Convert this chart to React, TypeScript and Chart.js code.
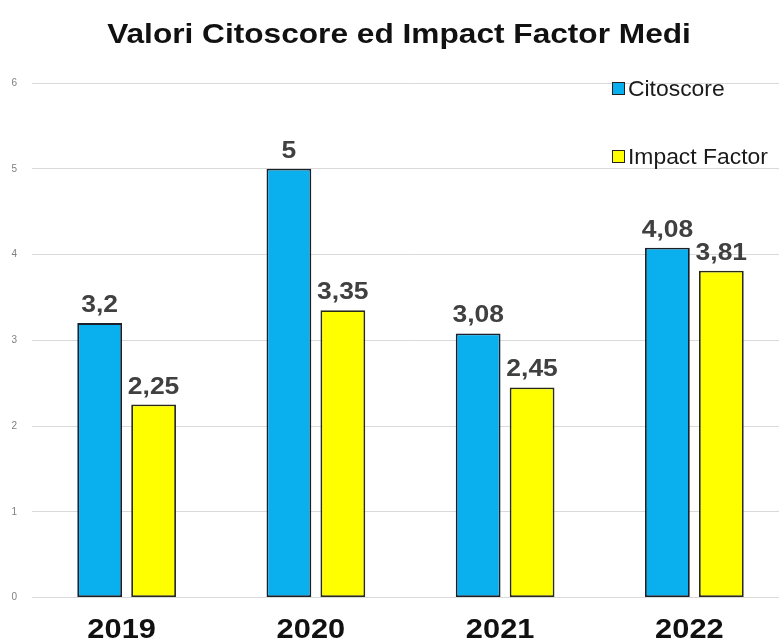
import React, { useEffect, useRef } from "react";
import { Chart, registerables } from "chart.js";

Chart.register(...registerables);

const categories = ["2019", "2020", "2021", "2022"];
const citoscore = [3.2, 5, 3.08, 4.08];
const impactFactor = [2.25, 3.35, 2.45, 3.81];
const seriesNames = ["Citoscore", "Impact Factor"];
const yTicks = [0, 1, 2, 3, 4, 5, 6];
const titleText = "Valori Citoscore ed Impact Factor Medi";

const FONT = "'Liberation Sans', Arial, sans-serif";
const COLORS = ["#0ab0ee", "#ffff00"];

function wideText(ctx: any, text: string, x: number, y: number, sx: number) {
  ctx.save();
  ctx.translate(x, y);
  ctx.scale(sx, 1);
  ctx.fillText(text, 0, 0);
  ctx.restore();
}

const overlayPlugin = {
  id: "overlay",
  afterDatasetsDraw(chart: any) {
    const ctx = chart.ctx;
    ctx.save();
    // data labels
    ctx.font = `bold 23px ${FONT}`;
    ctx.fillStyle = "#404040";
    ctx.textAlign = "center";
    ctx.textBaseline = "alphabetic";
    chart.data.datasets.forEach((ds: any, di: number) => {
      const meta = chart.getDatasetMeta(di);
      meta.data.forEach((bar: any, i: number) => {
        const v = ds.data[i];
        wideText(ctx, String(v).replace(".", ","), bar.x, bar.y - 11, 1.15);
      });
    });
    // category labels
    const xs = chart.scales.x;
    ctx.font = `bold 28px ${FONT}`;
    ctx.fillStyle = "#111111";
    chart.data.labels.forEach((lab: string, i: number) => {
      wideText(ctx, lab, xs.getPixelForValue(i) - 5, 638, 1.1);
    });
    // title
    ctx.font = `bold 28px ${FONT}`;
    ctx.fillStyle = "#111111";
    wideText(ctx, titleText, 399, 43, 1.13);
    // legend
    const rows = [89, 157];
    ctx.textAlign = "left";
    ctx.textBaseline = "middle";
    ctx.font = `22px ${FONT}`;
    seriesNames.forEach((name, i) => {
      const y = rows[i];
      ctx.fillStyle = COLORS[i];
      ctx.fillRect(612.5, y - 6.5, 12, 12);
      ctx.strokeStyle = "#222222";
      ctx.lineWidth = 1;
      ctx.strokeRect(612.5, y - 6.5, 12, 12);
      ctx.fillStyle = "#1a1a1a";
      wideText(ctx, name, 628, y + 1, 1.04);
    });
    ctx.restore();
  },
};

export default function App() {
  const ref = useRef<HTMLCanvasElement | null>(null);
  useEffect(() => {
    if (!ref.current) return;
    const chart = new Chart(ref.current, {
      type: "bar",
      data: {
        labels: categories,
        datasets: [
          {
            label: seriesNames[0],
            data: citoscore,
            backgroundColor: COLORS[0],
            borderColor: "#1a1f2a",
            borderWidth: 1.8,
            borderSkipped: false,
            categoryPercentage: 0.57,
            barPercentage: 0.83,
          },
          {
            label: seriesNames[1],
            data: impactFactor,
            backgroundColor: COLORS[1],
            borderColor: "#2a2a1a",
            borderWidth: 1.8,
            borderSkipped: false,
            categoryPercentage: 0.57,
            barPercentage: 0.83,
          },
        ],
      },
      options: {
        responsive: false,
        animation: false,
        devicePixelRatio: 1,
        layout: { padding: { top: 83, right: 1, left: 0, bottom: 0 } },
        plugins: {
          legend: { display: false },
          title: { display: false },
          tooltip: { enabled: false },
        },
        scales: {
          x: {
            grid: { display: false, drawTicks: false },
            border: { display: false },
            ticks: { display: false },
            afterFit: (s: any) => {
              s.height = 45.5;
            },
          },
          y: {
            min: 0,
            max: 6,
            afterBuildTicks: (s: any) => {
              s.ticks = yTicks.map((v) => ({ value: v }));
            },
            grid: { color: "#d9d9d9", lineWidth: 1, drawTicks: false },
            border: { display: false },
            ticks: {
              font: { family: FONT, size: 10 },
              color: "#7f7f7f",
              padding: 15,
            },
            afterFit: (s: any) => {
              s.width = 32;
            },
          },
        },
      },
      plugins: [overlayPlugin],
    });
    return () => chart.destroy();
  }, []);
  return (
    <div
      style={{
        position: "fixed",
        left: 0,
        top: 0,
        width: 779,
        height: 643,
        overflow: "hidden",
        background: "#ffffff",
      }}
    >
      <canvas ref={ref} width={790} height={643} style={{ display: "block" }} />
    </div>
  );
}
